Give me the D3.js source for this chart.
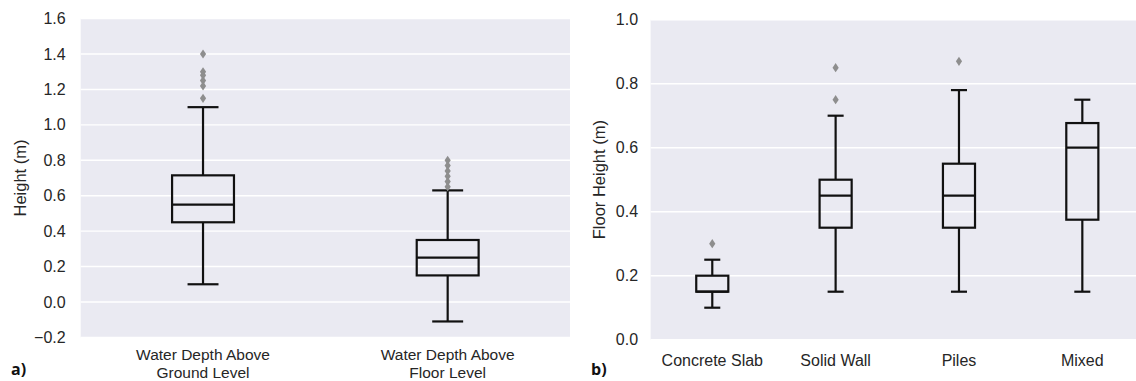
<!DOCTYPE html>
<html>
<head>
<meta charset="utf-8">
<script src="https://cdn.jsdelivr.net/npm/d3@7"></script>
<style>
  html, body { margin: 0; padding: 0; background: #fff; }
  svg { display: block; font-family: "Liberation Sans", Arial, sans-serif; }
</style>
</head>
<body>
<svg id="chart" width="1136" height="381"></svg>
<script>
// ---- Data ----
const catsA = ["Water Depth Above\nGround Level", "Water Depth Above\nFloor Level"];
const whiskerLowA = [0.10, -0.11];
const q1A = [0.45, 0.15];
const medianA = [0.55, 0.25];
const q3A = [0.715, 0.35];
const whiskerHighA = [1.10, 0.63];
const outliersA = [
  [1.40, 1.30, 1.28, 1.25, 1.22, 1.15],
  [0.80, 0.77, 0.74, 0.71, 0.68, 0.65]
];
const ticksA = [-0.2, 0.0, 0.2, 0.4, 0.6, 0.8, 1.0, 1.2, 1.4, 1.6];

const catsB = ["Concrete Slab", "Solid Wall", "Piles", "Mixed"];
const whiskerLowB = [0.10, 0.15, 0.15, 0.15];
const q1B = [0.15, 0.35, 0.35, 0.375];
const medianB = [0.15, 0.45, 0.45, 0.60];
const q3B = [0.20, 0.50, 0.55, 0.677];
const whiskerHighB = [0.25, 0.70, 0.78, 0.75];
const outliersB = [[0.30], [0.85, 0.75], [0.87], []];
const ticksB = [0.0, 0.2, 0.4, 0.6, 0.8, 1.0];

// ---- Drawing ----
const svg = d3.select("#chart");
const textColor = "#262626";

function panel(cfg) {
  const g = svg.append("g");
  const x = d3.scaleBand().domain(cfg.cats).range([cfg.x0, cfg.x1]).padding(0);
  const y = d3.scaleLinear().domain(cfg.domain).range([cfg.y1, cfg.y0]);

  g.append("rect")
    .attr("x", cfg.x0).attr("y", cfg.y0)
    .attr("width", cfg.x1 - cfg.x0).attr("height", cfg.y1 - cfg.y0)
    .attr("fill", "#eaeaf2");

  g.append("g").selectAll("line").data(cfg.ticks).join("line")
    .attr("x1", cfg.x0).attr("x2", cfg.x1)
    .attr("y1", d => y(d)).attr("y2", d => y(d))
    .attr("stroke", "#fff").attr("stroke-width", 1.4);

  const yAxis = g.append("g")
    .attr("transform", `translate(${cfg.x0},0)`)
    .call(d3.axisLeft(y).tickValues(cfg.ticks).tickFormat(d3.format(".1f")).tickSize(0).tickPadding(cfg.tickPad));
  yAxis.select(".domain").remove();
  yAxis.selectAll("text")
    .attr("fill", textColor).style("font-size", "16px")
    .text(d => d3.format(".1f")(d).replace("-", "\u2212"));

  const xAxis = g.append("g")
    .attr("transform", `translate(0,${cfg.y1})`)
    .call(d3.axisBottom(x).tickSize(0).tickPadding(0).tickFormat(""));
  xAxis.select(".domain").remove();
  xAxis.selectAll(".tick").each(function(d) {
    const t = d3.select(this).append("text")
      .attr("fill", textColor).attr("text-anchor", "middle")
      .style("font-size", cfg.labelFont + "px");
    d.split("\n").forEach((line, i) => {
      t.append("tspan").attr("x", 0).attr("y", cfg.labelDy + i * 17.3).text(line);
    });
  });

  const bw = x.bandwidth() * cfg.boxFrac;
  const cap = bw / 2;
  cfg.cats.forEach((c, i) => {
    const cx = x(c) + x.bandwidth() / 2;
    const bg = g.append("g").attr("stroke", "#111").attr("stroke-width", 2.2).attr("fill", "none");
    bg.append("line").attr("x1", cx).attr("x2", cx).attr("y1", y(cfg.wh[i])).attr("y2", y(cfg.q3[i]));
    bg.append("line").attr("x1", cx).attr("x2", cx).attr("y1", y(cfg.q1[i])).attr("y2", y(cfg.wl[i]));
    bg.append("line").attr("x1", cx - cap / 2).attr("x2", cx + cap / 2).attr("y1", y(cfg.wh[i])).attr("y2", y(cfg.wh[i]));
    bg.append("line").attr("x1", cx - cap / 2).attr("x2", cx + cap / 2).attr("y1", y(cfg.wl[i])).attr("y2", y(cfg.wl[i]));
    bg.append("rect").attr("x", cx - bw / 2).attr("width", bw)
      .attr("y", y(cfg.q3[i])).attr("height", y(cfg.q1[i]) - y(cfg.q3[i]));
    bg.append("line").attr("x1", cx - bw / 2).attr("x2", cx + bw / 2).attr("y1", y(cfg.med[i])).attr("y2", y(cfg.med[i]));
    g.append("g").selectAll("path").data(cfg.out[i]).join("path")
      .attr("d", "M0,-4.6 L3.1,0 L0,4.6 L-3.1,0 Z")
      .attr("transform", d => `translate(${cx},${y(d)})`)
      .attr("fill", "#8e8e8e");
  });

  g.append("text")
    .attr("transform", `translate(${cfg.ylabelX},${(cfg.y0 + cfg.y1) / 2}) rotate(-90)`)
    .attr("text-anchor", "middle").attr("dy", "0.35em")
    .attr("fill", textColor).style("font-size", "16.5px")
    .text(cfg.ylabel);

  g.append("text")
    .attr("x", cfg.letterX).attr("y", 375)
    .attr("fill", "#111").style("font-size", "16px").style("font-weight", "bold")
    .style("font-family", "'Open Sans', 'Liberation Sans', sans-serif")
    .text(cfg.letter);
}

panel({
  cats: catsA, domain: [-0.2, 1.6], ticks: ticksA,
  x0: 80.7, x1: 570, y0: 18.6, y1: 337.4,
  wl: whiskerLowA, q1: q1A, med: medianA, q3: q3A, wh: whiskerHighA, out: outliersA,
  boxFrac: 0.253, labelDy: 23.1, labelFont: 15.5, tickPad: 15, ylabel: "Height (m)", ylabelX: 20,
  letter: "a)", letterX: 11
});

panel({
  cats: catsB, domain: [0, 1.0], ticks: ticksB,
  x0: 650.6, x1: 1144, y0: 19.7, y1: 339.7,
  wl: whiskerLowB, q1: q1B, med: medianB, q3: q3B, wh: whiskerHighB, out: outliersB,
  boxFrac: 0.26, labelDy: 26.3, labelFont: 16, tickPad: 12.5, ylabel: "Floor Height (m)", ylabelX: 599,
  letter: "b)", letterX: 591
});
</script>
</body>
</html>
